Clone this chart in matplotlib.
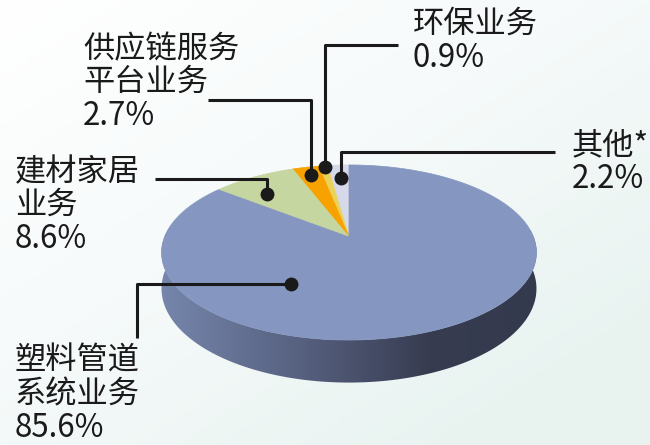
import numpy as np
import matplotlib
matplotlib.use("Agg")
import matplotlib.pyplot as plt
from matplotlib.patches import Polygon
from matplotlib.colors import LinearSegmentedColormap

plt.rcParams['font.family'] = ['Noto Sans CJK SC', 'DejaVu Sans']

# 业务占比 (%), 从12点方向逆时针排列
names = ['其他*', '环保业务', '供应链服务\n平台业务', '建材家居\n业务', '塑料管道\n系统业务']
shares = [2.2, 0.9, 2.7, 8.6, 85.6]
colors = ['#d5d9ea', '#e9d25a', '#f8a200', '#c6d6a1', '#8597c0']

# 3D饼图的几何参数 (像素坐标)
cx, cy = 349, 237          # 顶面圆心投影
R, H = 184.5, 84.8         # 横向/纵向半径
k = 0.177                  # 透视系数
T = 35                     # 侧面厚度


def project(theta, r=1.0, drop=0.0):
    u = r * np.cos(theta)
    v = -r * np.sin(theta)
    s = 1.0 / (1.0 - k * v)
    return cx + R * u * s, cy + H * v * s + drop * s


fig = plt.figure(figsize=(6.5, 4.45), dpi=100)
ax = fig.add_axes([0, 0, 1, 1])
ax.set_xlim(0, 650)
ax.set_ylim(445, 0)
ax.axis('off')

# 背景渐变
gx, gy = np.meshgrid(np.linspace(0, 1, 200), np.linspace(0, 1, 140))
g = np.clip(0.55 * gx + 0.6 * gy, 0, 1)
bg_cmap = LinearSegmentedColormap.from_list('bg', ['#ffffff', '#f6fafa', '#e8f3f0'])
ax.imshow(g, extent=(0, 650, 445, 0), cmap=bg_cmap, aspect='auto', zorder=0)

# 侧面
th = np.radians(np.linspace(170, 370, 300))
tx, ty = project(th)
bx, by = project(th[::-1], drop=T)
side = Polygon(np.column_stack([np.r_[tx, bx], np.r_[ty, by]]), closed=True,
               facecolor='none', edgecolor='none', zorder=1)
ax.add_patch(side)
side_cmap = LinearSegmentedColormap.from_list(
    'side', [(0.0, '#7686ac'), (0.37, '#56607f'), (0.7, '#373c50'), (1.0, '#343a4d')])
sg = np.tile(np.linspace(0, 1, 300), (10, 1))
im = ax.imshow(sg, extent=(160, 545, 400, 230), cmap=side_cmap, aspect='auto', zorder=1)
im.set_clip_path(side)

# 顶面扇区
start = 90.0
for val, col in zip(shares, colors):
    end = start + val * 3.6
    a = np.radians(np.linspace(start, end, max(int(val * 4), 4)))
    px, py = project(a)
    pts = np.column_stack([np.r_[cx, px], np.r_[cy, py]])
    ax.add_patch(Polygon(pts, closed=True, facecolor=col, edgecolor=col,
                         lw=0.5, zorder=2))
    start = end

# 引线与标签
ink = '#1a1a1a'
fs = 22.5
leaders = [
    # 其他*
    ([341, 341, 555], [178, 152, 152]),
    # 环保业务
    ([325, 325, 398], [167, 45, 45]),
    # 供应链服务平台业务
    ([311, 311, 208], [175, 100, 100]),
    # 建材家居业务
    ([267, 267, 155], [194, 179, 179]),
    # 塑料管道系统业务
    ([291, 137, 137], [284, 284, 338]),
]
for xs, ys in leaders:
    ax.plot(xs, ys, color=ink, lw=2.2, solid_capstyle='butt', zorder=4)
    ax.plot(xs[0], ys[0], 'o', color=ink, ms=9, zorder=5)

label_pos = [(572, 145), (413, 24), (83, 49), (15, 172), (15, 361)]
line_gap = 33
for name, val, (lx, ly) in zip(names, shares, label_pos):
    rows = name.split('\n') + ['%.1f%%' % val]
    for i, row in enumerate(rows):
        ax.text(lx, ly + i * line_gap + (1 if i == len(rows) - 1 else 0), row,
                fontsize=fs, color=ink, ha='left', va='center', zorder=6)

fig.savefig('out.png', dpi=100)
